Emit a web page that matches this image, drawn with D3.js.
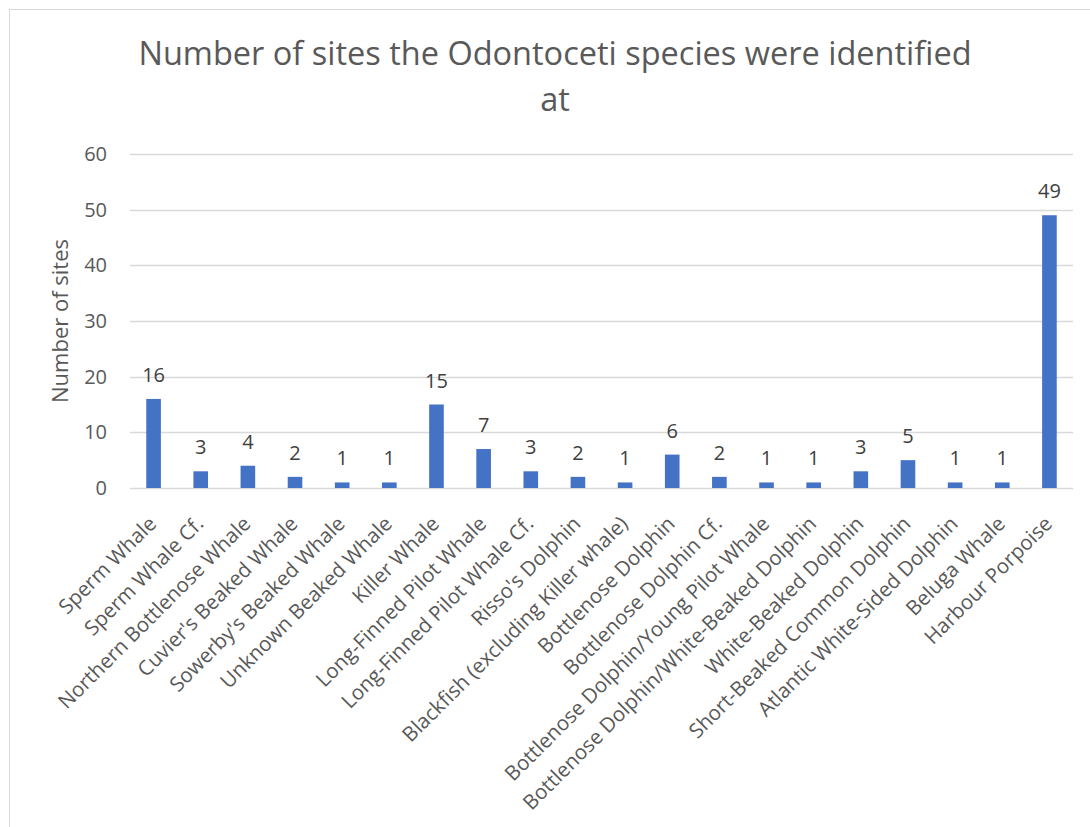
<!DOCTYPE html>
<html>
<head>
<meta charset="utf-8">
<script src="https://cdn.jsdelivr.net/npm/d3@7"></script>
<style>
  body { margin: 0; background: #fff; }
  text { font-family: "Open Sans", sans-serif; }
</style>
</head>
<body>
<div id="chart"></div>
<script>
var species = ["Sperm Whale", "Sperm Whale Cf.", "Northern Bottlenose Whale", "Cuvier's Beaked Whale",
  "Sowerby's Beaked Whale", "Unknown Beaked Whale", "Killer Whale", "Long-Finned Pilot Whale",
  "Long-Finned Pilot Whale Cf.", "Risso's Dolphin", "Blackfish (excluding Killer whale)", "Bottlenose Dolphin",
  "Bottlenose Dolphin Cf.", "Bottlenose Dolphin/Young Pilot Whale", "Bottlenose Dolphin/White-Beaked Dolphin",
  "White-Beaked Dolphin", "Short-Beaked Common Dolphin", "Atlantic White-Sided Dolphin", "Beluga Whale",
  "Harbour Porpoise"];
var sites = [16, 3, 4, 2, 1, 1, 15, 7, 3, 2, 1, 6, 2, 1, 1, 3, 5, 1, 1, 49];
var yTicks = [0, 10, 20, 30, 40, 50, 60];
var titleLines = ["Number of sites the Odontoceti species were identified", "at"];

var W = 1090, H = 827;
var m = {left: 130, right: 17, top: 154, bottom: 339};
var w = W - m.left - m.right;
var h = H - m.top - m.bottom;

var svg = d3.select("#chart").append("svg")
  .attr("width", W).attr("height", H);

// chart border
svg.append("rect")
  .attr("x", 9.5).attr("y", 9.5)
  .attr("width", W + 20).attr("height", H + 20)
  .attr("fill", "none").attr("stroke", "#d9d9d9");

var g = svg.append("g").attr("transform", "translate(" + m.left + "," + m.top + ")");

var x = d3.scaleBand().domain(species).range([0, w]).paddingInner(0.69).paddingOuter(0.345);
var y = d3.scaleLinear().domain([0, 60]).range([h, 0]);

// gridlines
g.append("g").selectAll("line")
  .data(yTicks)
  .enter().append("line")
  .attr("x1", 0).attr("x2", w)
  .attr("y1", function(d) { return Math.round(y(d)) + 0.5; })
  .attr("y2", function(d) { return Math.round(y(d)) + 0.5; })
  .attr("stroke", "#d9d9d9").attr("stroke-width", 1.3);

// y tick labels
g.append("g").selectAll("text")
  .data(yTicks)
  .enter().append("text")
  .attr("x", -23).attr("y", function(d) { return y(d); })
  .attr("dy", "0.35em")
  .style("text-anchor", "end")
  .style("font-size", "20px")
  .style("fill", "#595959")
  .text(function(d) { return d; });

// bars
g.append("g").selectAll("rect")
  .data(sites)
  .enter().append("rect")
  .attr("x", function(d, i) { return x(species[i]); })
  .attr("y", function(d) { return y(d); })
  .attr("width", x.bandwidth())
  .attr("height", function(d) { return h - y(d); })
  .attr("fill", "#4472c4");

// data labels
g.append("g").selectAll("text")
  .data(sites)
  .enter().append("text")
  .attr("x", function(d, i) { return x(species[i]) + x.bandwidth() / 2; })
  .attr("y", function(d) { return y(d) - 17; })
  .style("text-anchor", "middle")
  .style("font-size", "20px")
  .style("fill", "#404040")
  .text(function(d) { return d; });

// category labels
g.append("g").selectAll("text")
  .data(species)
  .enter().append("text")
  .attr("transform", function(d) {
    return "translate(" + (x(d) + x.bandwidth() / 2 + 4) + "," + (h + 37) + ") rotate(-45)";
  })
  .style("text-anchor", "end")
  .style("font-size", "20.5px")
  .style("fill", "#595959")
  .text(function(d) { return d; });

// y axis title
svg.append("text")
  .attr("transform", "translate(68," + (m.top + h / 2) + ") rotate(-90)")
  .style("text-anchor", "middle")
  .style("font-size", "22px")
  .style("fill", "#595959")
  .text("Number of sites");

// title
svg.append("g").selectAll("text")
  .data(titleLines)
  .enter().append("text")
  .attr("x", 555)
  .attr("y", function(d, i) { return 65 + i * 46; })
  .style("text-anchor", "middle")
  .style("font-size", "32.5px")
  .style("fill", "#595959")
  .text(function(d) { return d; });
</script>
</body>
</html>
